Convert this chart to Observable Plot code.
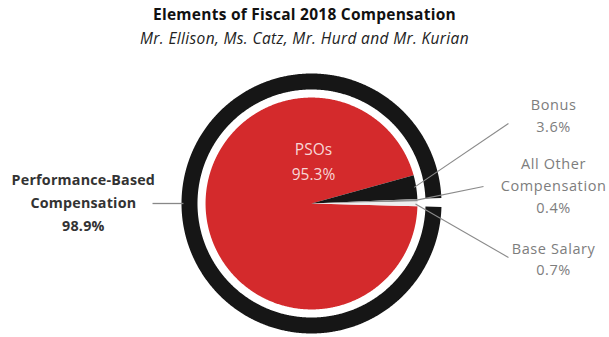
<!DOCTYPE html>
<html>
<head>
<meta charset="utf-8">
<script src="https://cdn.jsdelivr.net/npm/d3@7"></script>
<script src="https://cdn.jsdelivr.net/npm/@observablehq/plot@0.6"></script>
<style>
  body { margin: 0; background: #fff; font-family: "Open Sans", sans-serif; }
  #head { width: 609px; height: 52px; text-align: center; position: relative; }
  #head .t { position: absolute; left: 0; right: 0; top: 3px; font-size: 15.5px; font-weight: bold; color: #111; letter-spacing: 0.25px; }
  #head .s { position: absolute; left: 0; right: 0; top: 27px; font-size: 15.5px; font-style: italic; color: #222; letter-spacing: 0.35px; }
  #chart svg { display: block; }
</style>
</head>
<body>
<div id="head">
  <div class="t">Elements of Fiscal 2018 Compensation</div>
  <div class="s">Mr. Ellison, Ms. Catz, Mr. Hurd and Mr. Kurian</div>
</div>
<div id="chart"></div>
<script>
// ---- data ----
const categories = ["PSOs", "Bonus", "All Other Compensation", "Base Salary"];
const values = [95.3, 3.6, 0.4, 0.7];
const sliceLabels = ["PSOs\n95.3%", "Bonus\n3.6%", "All Other\nCompensation\n0.4%", "Base Salary\n0.7%"];
const ringGroups = ["Performance-Based Compensation", "Other"];
const ringValues = [98.9, 1.1];
const ringLabel = "Performance-Based\nCompensation\n98.9%";

// ---- styles / layout ----
const sliceColors = ["#d42a2c", "#161616", "#8e8e8e", "#eeeeee"];
const ringColors = ["#161616", "none"];
const startDeg = 91.5;
const rPie = 0.815, rRingIn = 0.877, rRingOut = 1.0;
const W = 609, H = 285, pxPerUnit = 130, cx = 311, cy = 151;

const start = startDeg * Math.PI / 180;
const pie = d3.pie().sort(null).value(d => d).startAngle(start).endAngle(start + 2 * Math.PI);
const slices = pie(values);
const rings = pie(ringValues);

const pt = (a, r) => ({x: r * Math.sin(a), y: r * Math.cos(a)});
function arcPts(a0, a1, r) {
  const n = Math.max(2, Math.ceil(Math.abs(a1 - a0) / (0.4 * Math.PI / 180)));
  return d3.range(n + 1).map(i => pt(a0 + (a1 - a0) * i / n, r));
}
const slicePoly = s => [{x: 0, y: 0}, ...arcPts(s.startAngle, s.endAngle, rPie)];
const ringPoly = s => [...arcPts(s.startAngle, s.endAngle, rRingOut), ...arcPts(s.endAngle, s.startAngle, rRingIn)];

const sliceMarks = slices.map((s, i) => Plot.line(slicePoly(s), {x: "x", y: "y", fill: sliceColors[i], stroke: "none", curve: "linear-closed"}));
const ringMarks = rings.filter((s, i) => ringColors[i] !== "none").map((s, i) => Plot.line(ringPoly(s), {x: "x", y: "y", fill: ringColors[i], stroke: "none", curve: "linear-closed"}));

// label anchors (layout)
const rightX = 1.862;
const labelPos = [
  {x: 0.015, y: 0.34},
  {x: rightX, y: 0.69, lx: 1.515, ly: 0.615},
  {x: rightX, y: 0.15, lx: 1.323, ly: 0.131},
  {x: rightX, y: -0.415, lx: 1.515, ly: -0.415}
];
const leaders = slices.slice(1).map((s, j) => {
  const i = j + 1, m = (s.startAngle + s.endAngle) / 2, p = pt(m, 0.8);
  return {x1: p.x, y1: p.y, x2: labelPos[i].lx, y2: labelPos[i].ly};
});
const rightLabels = sliceLabels.slice(1).map((t, j) => ({text: t, x: labelPos[j + 1].x, y: labelPos[j + 1].y}));
const ringLeader = [{x1: -1.223, y1: 0, x2: -0.985, y2: 0}];

const chart = Plot.plot({
  width: W, height: H,
  margin: 0,
  x: {domain: [-cx / pxPerUnit, (W - cx) / pxPerUnit], axis: null},
  y: {domain: [-(H - cy) / pxPerUnit, cy / pxPerUnit], axis: null},
  style: {fontFamily: "'Open Sans', sans-serif", background: "#fff"},
  marks: [
    ...ringMarks,
    ...sliceMarks,
    Plot.link(leaders, {x1: "x1", y1: "y1", x2: "x2", y2: "y2", stroke: "#8a8a8a", strokeWidth: 1.1}),
    Plot.link(ringLeader, {x1: "x1", y1: "y1", x2: "x2", y2: "y2", stroke: "#888", strokeWidth: 1.3}),
    Plot.text([sliceLabels[0]], {x: labelPos[0].x, y: labelPos[0].y, text: d => d, fill: "#f7d6d6", fontSize: 15.5, lineHeight: 1.6}),
    Plot.text(rightLabels, {x: "x", y: "y", text: "text", fill: "#7d7d7d", fontSize: 14.5, lineHeight: 1.5}),
    Plot.text([ringLabel], {x: -1.755, y: 0.022, text: d => d, fill: "#333", fontSize: 14.3, fontWeight: "bold", lineHeight: 1.62})
  ]
});
chart.querySelectorAll('g[aria-label="text"]').forEach((g, i) => {
  if (i === 1) g.querySelectorAll("text").forEach(t => t.style.letterSpacing = "0.6px");
  if (i === 2) g.querySelectorAll("text").forEach(t => t.style.letterSpacing = "0.2px");
});
document.getElementById("chart").appendChild(chart);
</script>
</body>
</html>
